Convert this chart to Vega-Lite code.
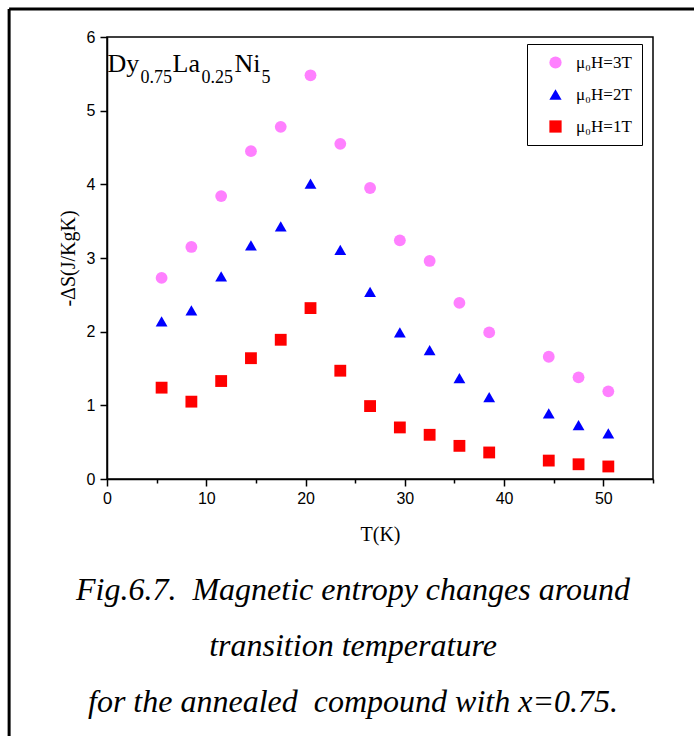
{
  "$schema": "https://vega.github.io/schema/vega-lite/v6.json",
  "width": 546,
  "height": 442,
  "autosize": {"type": "none"},
  "padding": {"left": 107, "top": 37, "right": 41, "bottom": 257},
  "background": "white",
  "config": {
    "view": {"stroke": "#000", "strokeWidth": 1.5},
    "axis": {
      "domainColor": "#000", "domainWidth": 1.5, "tickColor": "#000", "tickWidth": 1.5,
      "labelFont": "Liberation Sans", "labelFontSize": 16, "labelColor": "#000",
      "titleFont": "Liberation Serif", "titleFontSize": 20, "titleFontWeight": "normal", "titleColor": "#000",
      "grid": false
    },
    "legend": {
      "labelFont": "Liberation Serif", "labelFontSize": 17, "labelColor": "#000"
    }
  },
  "title": {
    "text": ["Fig.6.7.\u00a0 Magnetic entropy changes around", "transition temperature", "for the annealed\u00a0 compound with x=0.75."],
    "orient": "bottom",
    "anchor": "middle",
    "frame": "group",
    "baseline": "top",
    "dx": -27,
    "offset": -163,
    "font": "Liberation Serif",
    "fontStyle": "italic",
    "fontWeight": "normal",
    "fontSize": 32,
    "lineHeight": 56,
    "color": "#000"
  },
  "datasets": {
    "entropy": [
      {"T": 5.5, "dS": 2.73, "field": "μ₀H=3T"},
      {"T": 8.5, "dS": 3.15, "field": "μ₀H=3T"},
      {"T": 11.5, "dS": 3.84, "field": "μ₀H=3T"},
      {"T": 14.5, "dS": 4.45, "field": "μ₀H=3T"},
      {"T": 17.5, "dS": 4.78, "field": "μ₀H=3T"},
      {"T": 20.5, "dS": 5.48, "field": "μ₀H=3T"},
      {"T": 23.5, "dS": 4.55, "field": "μ₀H=3T"},
      {"T": 26.5, "dS": 3.95, "field": "μ₀H=3T"},
      {"T": 29.5, "dS": 3.24, "field": "μ₀H=3T"},
      {"T": 32.5, "dS": 2.96, "field": "μ₀H=3T"},
      {"T": 35.5, "dS": 2.39, "field": "μ₀H=3T"},
      {"T": 38.5, "dS": 1.99, "field": "μ₀H=3T"},
      {"T": 44.5, "dS": 1.66, "field": "μ₀H=3T"},
      {"T": 47.5, "dS": 1.38, "field": "μ₀H=3T"},
      {"T": 50.5, "dS": 1.19, "field": "μ₀H=3T"},
      {"T": 5.5, "dS": 2.14, "field": "μ₀H=2T"},
      {"T": 8.5, "dS": 2.29, "field": "μ₀H=2T"},
      {"T": 11.5, "dS": 2.75, "field": "μ₀H=2T"},
      {"T": 14.5, "dS": 3.17, "field": "μ₀H=2T"},
      {"T": 17.5, "dS": 3.43, "field": "μ₀H=2T"},
      {"T": 20.5, "dS": 4.01, "field": "μ₀H=2T"},
      {"T": 23.5, "dS": 3.11, "field": "μ₀H=2T"},
      {"T": 26.5, "dS": 2.54, "field": "μ₀H=2T"},
      {"T": 29.5, "dS": 1.99, "field": "μ₀H=2T"},
      {"T": 32.5, "dS": 1.75, "field": "μ₀H=2T"},
      {"T": 35.5, "dS": 1.37, "field": "μ₀H=2T"},
      {"T": 38.5, "dS": 1.11, "field": "μ₀H=2T"},
      {"T": 44.5, "dS": 0.89, "field": "μ₀H=2T"},
      {"T": 47.5, "dS": 0.73, "field": "μ₀H=2T"},
      {"T": 50.5, "dS": 0.62, "field": "μ₀H=2T"},
      {"T": 5.5, "dS": 1.24, "field": "μ₀H=1T"},
      {"T": 8.5, "dS": 1.05, "field": "μ₀H=1T"},
      {"T": 11.5, "dS": 1.33, "field": "μ₀H=1T"},
      {"T": 14.5, "dS": 1.64, "field": "μ₀H=1T"},
      {"T": 17.5, "dS": 1.89, "field": "μ₀H=1T"},
      {"T": 20.5, "dS": 2.32, "field": "μ₀H=1T"},
      {"T": 23.5, "dS": 1.47, "field": "μ₀H=1T"},
      {"T": 26.5, "dS": 0.99, "field": "μ₀H=1T"},
      {"T": 29.5, "dS": 0.70, "field": "μ₀H=1T"},
      {"T": 32.5, "dS": 0.60, "field": "μ₀H=1T"},
      {"T": 35.5, "dS": 0.45, "field": "μ₀H=1T"},
      {"T": 38.5, "dS": 0.36, "field": "μ₀H=1T"},
      {"T": 44.5, "dS": 0.25, "field": "μ₀H=1T"},
      {"T": 47.5, "dS": 0.20, "field": "μ₀H=1T"},
      {"T": 50.5, "dS": 0.17, "field": "μ₀H=1T"}
    ],
    "one": [{}]
  },
  "layer": [
    {
      "data": {"name": "entropy"},
      "mark": {"type": "point", "filled": true, "opacity": 1, "size": 140},
      "encoding": {
        "x": {
          "field": "T", "type": "quantitative", "title": "T(K)",
          "scale": {"domain": [0, 55], "nice": false, "zero": false},
          "axis": {
            "values": [0, 5, 10, 15, 20, 25, 30, 35, 40, 45, 50, 55],
            "labelExpr": "datum.value % 10 === 0 ? datum.label : ''",
            "tickSize": {"condition": {"test": "datum.value % 10 === 0", "value": 7}, "value": 4},
            "labelPadding": 4,
            "titlePadding": 18,
            "labelFlush": false,
            "labelOverlap": false
          }
        },
        "y": {
          "field": "dS", "type": "quantitative", "title": "-ΔS(J/KgK)",
          "scale": {"domain": [0, 6], "nice": false, "zero": false},
          "axis": {
            "values": [0, 0.5, 1, 1.5, 2, 2.5, 3, 3.5, 4, 4.5, 5, 5.5, 6],
            "labelExpr": "datum.value % 1 === 0 ? format(datum.value, 'd') : ''",
            "tickSize": {"condition": {"test": "datum.value % 1 === 0", "value": 7}, "value": 4},
            "labelPadding": 5,
            "titlePadding": 8,
            "labelFlush": false,
            "labelOverlap": false
          }
        },
        "color": {
          "field": "field", "type": "nominal", "title": null,
          "scale": {"domain": ["μ₀H=3T", "μ₀H=2T", "μ₀H=1T"], "range": ["#FF80FF", "#0000FF", "#FF0000"]},
          "legend": {
            "orient": "none", "legendX": 420, "legendY": 7,
            "strokeColor": "#000", "fillColor": "#fff", "padding": 10,
            "rowPadding": 14, "symbolOffset": 10, "labelOffset": 12,
            "symbolSize": 150, "symbolStrokeWidth": 0, "symbolOpacity": 1
          }
        },
        "shape": {
          "field": "field", "type": "nominal", "title": null,
          "scale": {"domain": ["μ₀H=3T", "μ₀H=2T", "μ₀H=1T"], "range": ["circle", "triangle-up", "square"]}
        }
      }
    },
    {
      "data": {"name": "one"},
      "mark": {"type": "text", "text": "Dy", "font": "Liberation Serif", "fontSize": 26, "align": "left", "baseline": "alphabetic", "color": "#000"},
      "encoding": {"x": {"datum": 0.06}, "y": {"datum": 5.52}}
    },
    {
      "data": {"name": "one"},
      "mark": {"type": "text", "text": "0.75", "font": "Liberation Serif", "fontSize": 18, "align": "left", "baseline": "alphabetic", "dx": 33, "dy": 11, "color": "#000"},
      "encoding": {"x": {"datum": 0.06}, "y": {"datum": 5.52}}
    },
    {
      "data": {"name": "one"},
      "mark": {"type": "text", "text": "La", "font": "Liberation Serif", "fontSize": 26, "align": "left", "baseline": "alphabetic", "dx": 65, "color": "#000"},
      "encoding": {"x": {"datum": 0.06}, "y": {"datum": 5.52}}
    },
    {
      "data": {"name": "one"},
      "mark": {"type": "text", "text": "0.25", "font": "Liberation Serif", "fontSize": 18, "align": "left", "baseline": "alphabetic", "dx": 94, "dy": 11, "color": "#000"},
      "encoding": {"x": {"datum": 0.06}, "y": {"datum": 5.52}}
    },
    {
      "data": {"name": "one"},
      "mark": {"type": "text", "text": "Ni", "font": "Liberation Serif", "fontSize": 26, "align": "left", "baseline": "alphabetic", "dx": 127, "color": "#000"},
      "encoding": {"x": {"datum": 0.06}, "y": {"datum": 5.52}}
    },
    {
      "data": {"name": "one"},
      "mark": {"type": "text", "text": "5", "font": "Liberation Serif", "fontSize": 18, "align": "left", "baseline": "alphabetic", "dx": 154, "dy": 11, "color": "#000"},
      "encoding": {"x": {"datum": 0.06}, "y": {"datum": 5.52}}
    },
    {
      "data": {"name": "one"},
      "mark": {"type": "rule", "color": "#000", "strokeWidth": 3, "clip": false},
      "encoding": {"x": {"datum": -9.86}, "y": {"datum": 6.38}, "y2": {"datum": -3.5}}
    },
    {
      "data": {"name": "one"},
      "mark": {"type": "rule", "color": "#000", "strokeWidth": 3, "clip": false},
      "encoding": {"y": {"datum": 6.38}, "x": {"datum": -9.86}, "x2": {"datum": 60}}
    }
  ]
}
